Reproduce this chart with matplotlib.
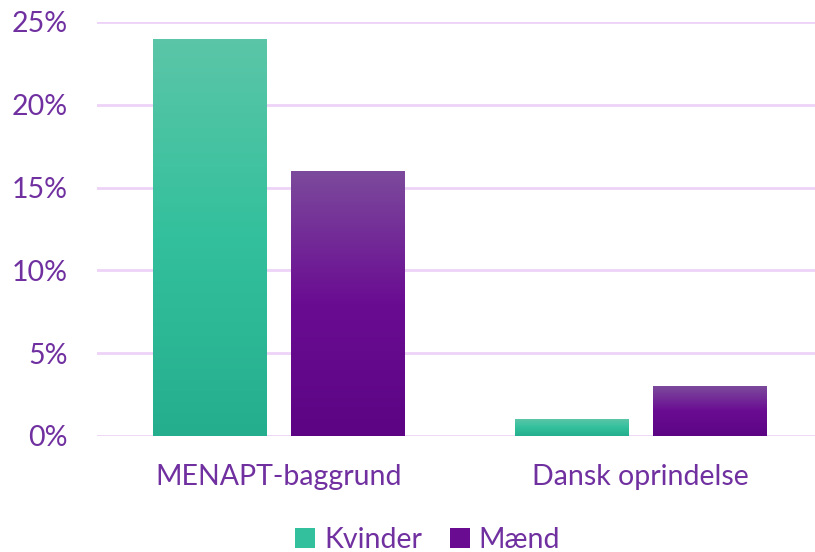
import numpy as np
import matplotlib.pyplot as plt
from matplotlib.colors import LinearSegmentedColormap
from matplotlib.patches import Patch

categories = ['MENAPT-baggrund', 'Dansk oprindelse']
kvinder = [24, 1]
maend = [16, 3]
yticks = [0, 5, 10, 15, 20, 25]
ytick_labels = ['0%', '5%', '10%', '15%', '20%', '25%']

TEXT = '#7030A0'
GRID = '#EDD3F7'

# gradients: bottom -> middle -> top
green = LinearSegmentedColormap.from_list('g', ['#25AE8E', '#33C09C', '#5BC6A8'])
purple = LinearSegmentedColormap.from_list('p', ['#5C0484', '#6A0C92', '#7C4A9C'])

plt.rcParams['font.family'] = ['Lato', 'DejaVu Sans']

fig = plt.figure(figsize=(8.15, 5.52), dpi=100)
ax = fig.add_axes([97 / 815, 1 - 436 / 552, 1 - 97 / 815, 414 / 552])

x = np.arange(len(categories))
w = 0.312
off = 0.19


def gradient_bars(xpos, vals, cmap):
    bars = ax.bar(xpos, vals, width=w, color='none', zorder=3)
    grad = np.linspace(0, 1, 256).reshape(-1, 1)
    for b in bars:
        x0, y0 = b.get_x(), b.get_y()
        im = ax.imshow(grad, cmap=cmap, origin='lower', aspect='auto',
                       extent=[x0, x0 + b.get_width(), y0, y0 + b.get_height()],
                       zorder=3)
        im.set_clip_path(b)


gradient_bars(x - off, kvinder, green)
gradient_bars(x + off, maend, purple)

ax.set_xlim(-0.5, -0.5 + 718 / 362.5)
ax.set_ylim(0, 25)
ax.set_yticks(yticks)
ax.set_yticklabels(ytick_labels)
ax.set_xticks(x)
ax.set_xticklabels(categories)
ax.tick_params(axis='both', length=0, labelsize=20.5, colors=TEXT)
ax.tick_params(axis='y', pad=21)
ax.tick_params(axis='x', pad=20)
ax.yaxis.grid(True, color=GRID, linewidth=2, zorder=0)
ax.set_axisbelow(True)
for s in ax.spines.values():
    s.set_visible(False)

handles = [Patch(facecolor='#33C09C', label='Kvinder'),
           Patch(facecolor='#6A0C92', label='Mænd')]
leg = fig.legend(handles=handles, loc='center', bbox_to_anchor=(0.525, 1 - 540 / 552),
                 ncol=2, frameon=False, fontsize=20.5, handlelength=0.7, handleheight=0.7,
                 handletextpad=0.3, columnspacing=1.0)
for t in leg.get_texts():
    t.set_color(TEXT)

fig.savefig('out.png', dpi=100)
